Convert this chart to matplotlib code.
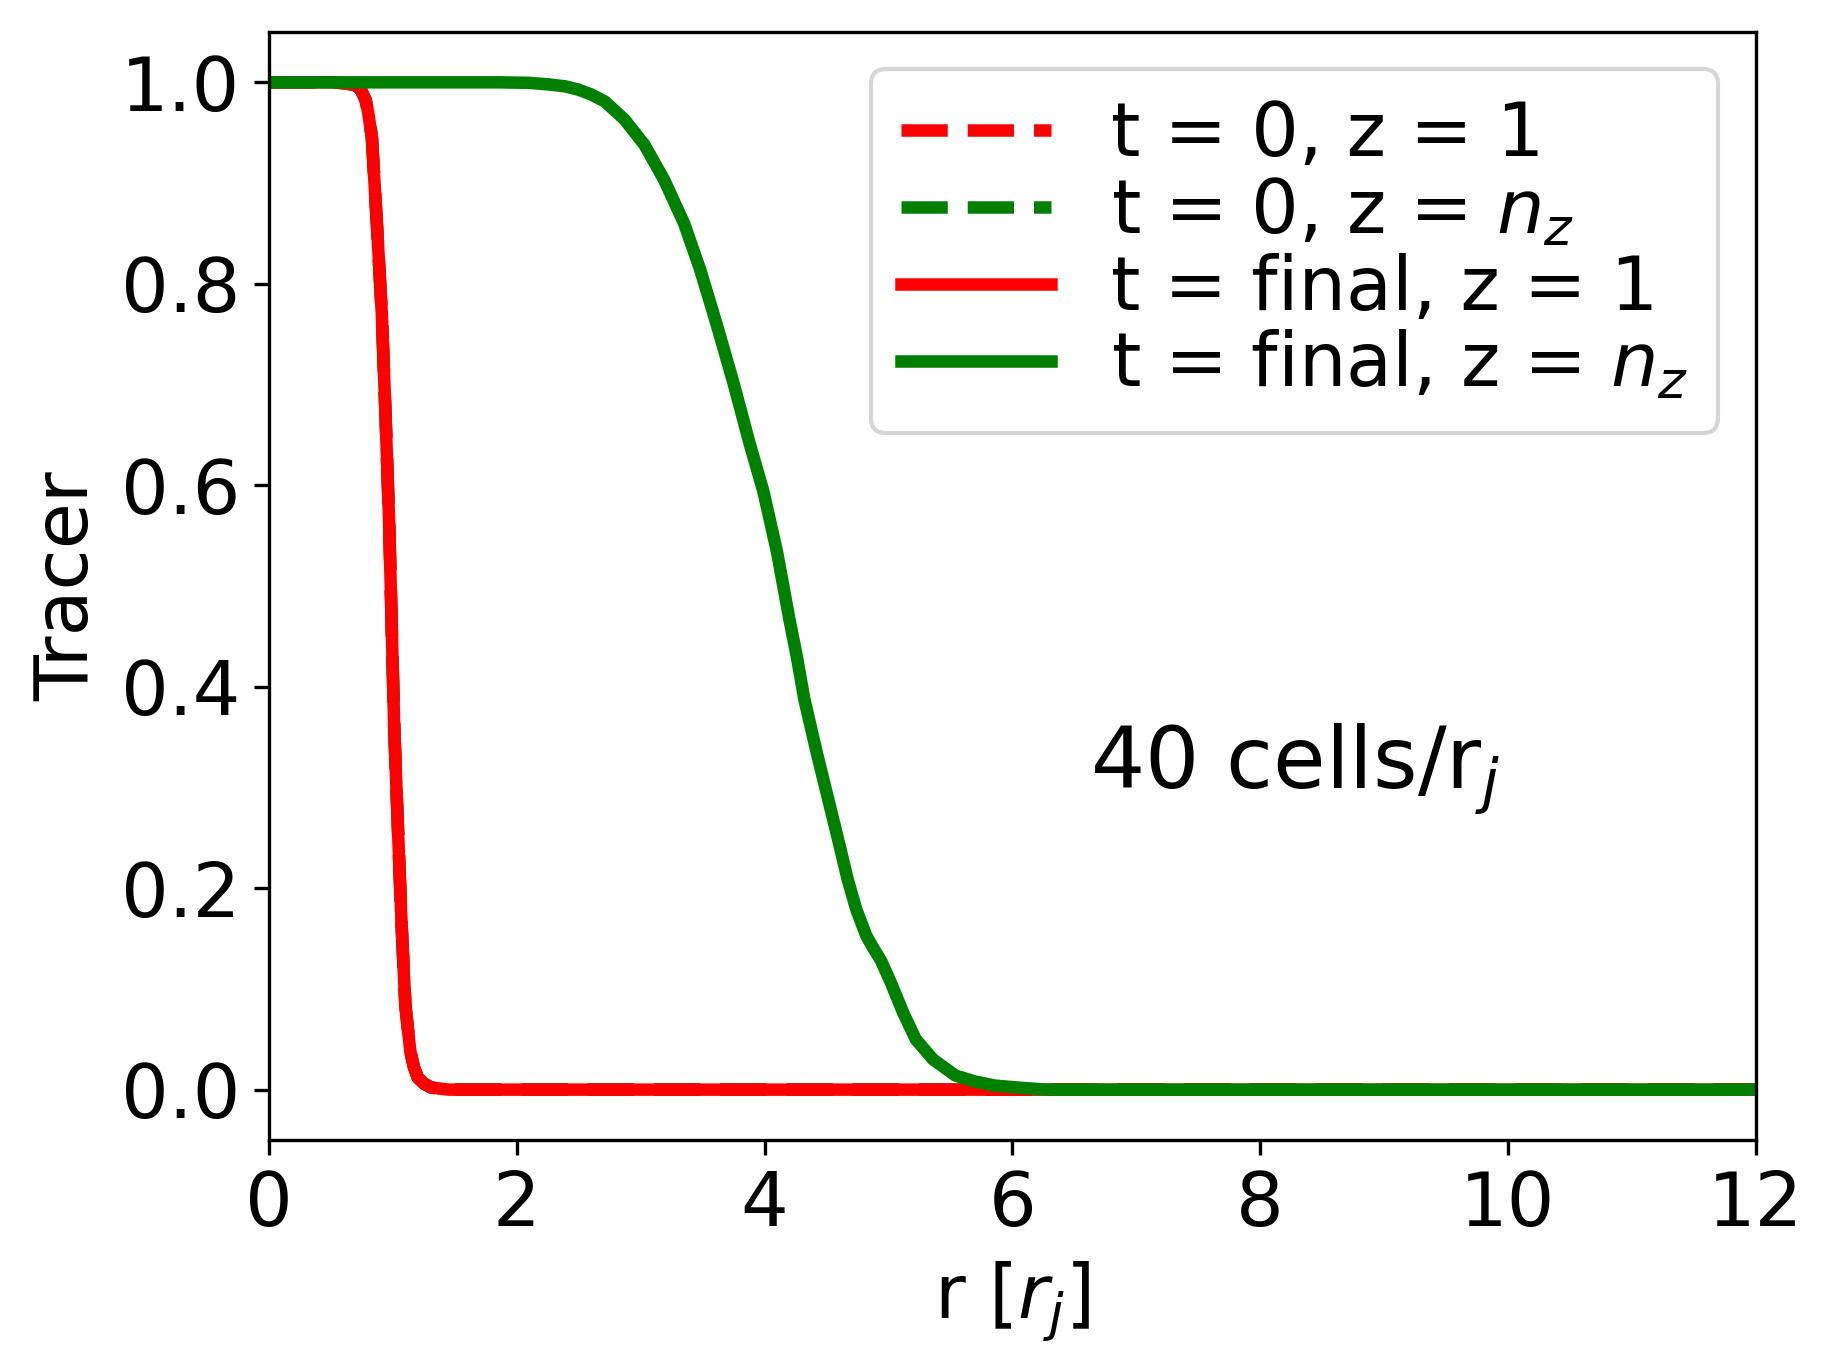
import matplotlib
matplotlib.use("Agg")
import matplotlib.pyplot as plt

# radial positions [r_j] and tracer values
r_z1 = [0.0, 0.5, 0.62, 0.7, 0.74, 0.78, 0.80, 0.83, 0.87, 0.91, 0.94, 0.97,
        0.99, 1.01, 1.04, 1.07, 1.10, 1.14, 1.17, 1.20, 1.25, 1.31, 1.45, 2.0, 12.0]
tracer_z1 = [1.0, 1.0, 0.999, 0.997, 0.993, 0.982, 0.97, 0.945, 0.86, 0.77, 0.67, 0.56,
             0.46, 0.36, 0.26, 0.163, 0.084, 0.038, 0.022, 0.012, 0.006, 0.002, 0.0, 0.0, 0.0]

# initial profile is the same at both heights
r_init = r_z1
tracer_init = tracer_z1

r_nz = [0.0, 1.85, 2.1, 2.25, 2.39, 2.49, 2.60, 2.71, 2.87, 3.03, 3.19, 3.35,
        3.48, 3.61, 3.75, 3.88, 3.99, 4.10, 4.20, 4.26, 4.32, 4.42, 4.52, 4.60,
        4.67, 4.74, 4.82, 4.88, 4.94, 5.02, 5.12, 5.22, 5.36, 5.54, 5.7, 5.86,
        6.05, 6.27, 12.0]
tracer_nz = [1.0, 1.0, 0.9995, 0.998, 0.996, 0.993, 0.988, 0.981, 0.963, 0.938, 0.903,
             0.860, 0.814, 0.761, 0.701, 0.641, 0.594, 0.534, 0.467, 0.43, 0.388,
             0.335, 0.285, 0.245, 0.209, 0.179, 0.153, 0.140, 0.128, 0.106, 0.076,
             0.050, 0.030, 0.014, 0.008, 0.004, 0.002, 0.0, 0.0]

labels = ["t = 0, z = 1", "t = 0, z = $n_z$",
          "t = final, z = 1", "t = final, z = $n_z$"]

plt.rcParams["font.size"] = 18

fig = plt.figure(figsize=(1833 / 300, 1372 / 300), dpi=300)
ax = fig.add_axes([0.1468, 0.1691, 0.8110, 0.8076])

ax.plot(r_init, tracer_init, "--", color="red", lw=3, label=labels[0])
ax.plot(r_init, tracer_init, "--", color="green", lw=3, label=labels[1])
ax.plot(r_z1, tracer_z1, "-", color="red", lw=3, label=labels[2])
ax.plot(r_nz, tracer_nz, "-", color="green", lw=3, label=labels[3])

ax.set_xlim(0, 12)
ax.set_xlabel("r [$r_j$]")
ax.set_ylabel("Tracer")
ax.text(6.63, 0.3, "40 cells/r$_j$", fontsize=20.5)
ax.legend(loc="upper right", labelspacing=0.05)

fig.savefig("out.png", dpi=300)
